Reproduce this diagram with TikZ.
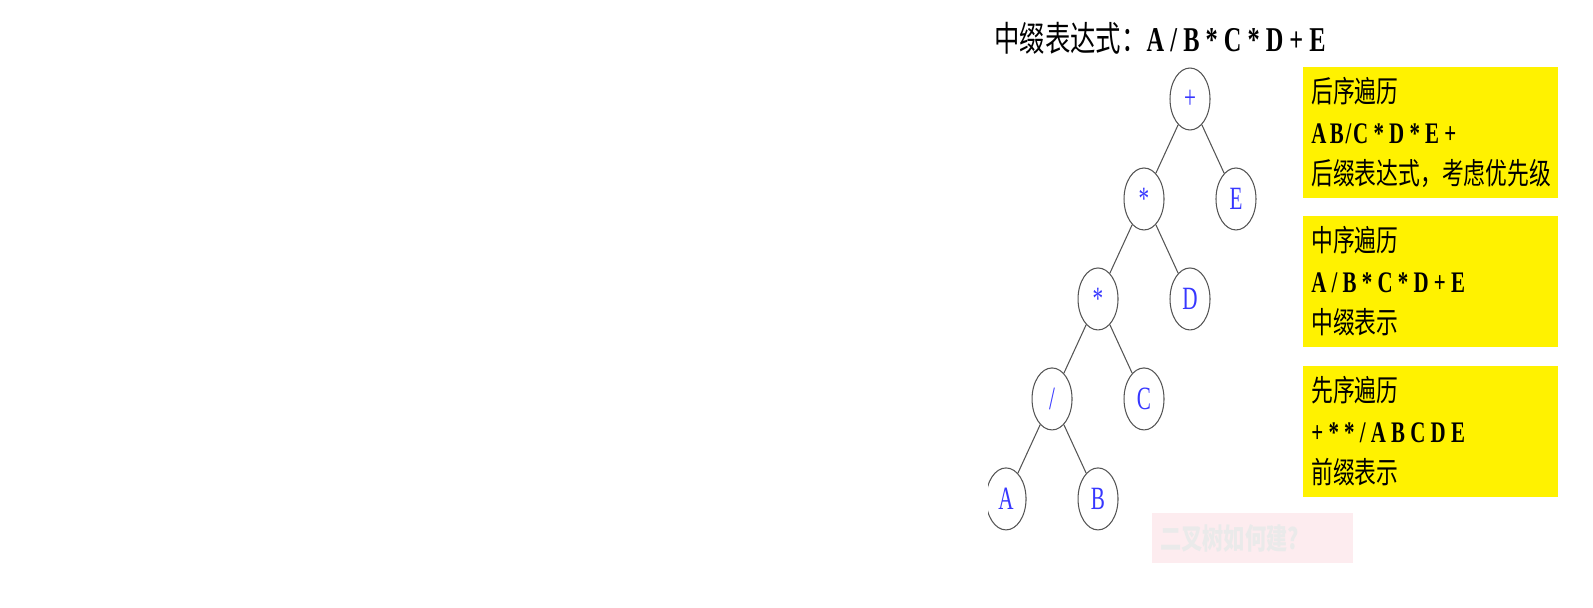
\documentclass[tikz,border=0pt]{standalone}
\usepackage{fontspec}
\usepackage{xcolor}
\usepackage{tikz}
\usetikzlibrary{positioning, shapes.geometric}

\newfontfamily\cjkfont[FakeStretch=0.73]{Noto Sans CJK SC}
\newfontfamily\latfont[FakeStretch=0.7]{Liberation Serif}
\newfontfamily\leaffont[FakeStretch=0.65]{Liberation Serif}
\newcommand{\latbf}[1]{{\latfont\bfseries\spaceskip=0pt\xspaceskip=0pt #1}}
\definecolor{leafblue}{RGB}{55,55,255}
\definecolor{edgegray}{RGB}{85,85,85}
\definecolor{notepink}{RGB}{253,236,239}
\definecolor{notegray}{RGB}{234,234,234}

\begin{document}
\begin{tikzpicture}[
  x=0.02cm, y=-0.02cm,
  on grid,
  node distance=2cm and 0.92cm,
  op/.style={draw=edgegray, line width=0.6pt, ellipse, inner sep=0pt, minimum width=0.8cm, minimum height=1.24cm,
    text=leafblue, font=\fontsize{18.5pt}{20pt}\selectfont\leaffont},
  orderbox/.style={fill=yellow, anchor=north west, align=left, text width=4.78cm, inner xsep=0.16cm,
    minimum height=2.62cm, font=\fontsize{17pt}{23.3pt}\selectfont\cjkfont},
  line/.style={draw=edgegray, line width=0.6pt}
]
\useasboundingbox (0,0) rectangle (1593,608);

% Title
\node (title) [anchor=west, inner sep=0pt] at (994,38)
  {\fontsize{19.8pt}{21pt}\selectfont\cjkfont 中缀表达式：\latbf{A / B * C * D + E}};

% Expression tree
\begin{scope}
\clip (988,0) rectangle (1593,608);
\node (plus) [op] at (1190,99) {+};
\node (mulA) [op, below left=of plus] {*};
\node (e)    [op, below right=of plus] {E};
\node (mulB) [op, below left=of mulA] {*};
\node (d)    [op, below right=of mulA] {D};
\node (div)  [op, below left=of mulB] {/};
\node (c)    [op, below right=of mulB] {C};
\node (a)    [op, below left=of div] {A};
\node (b)    [op, below right=of div] {B};

% Connections
\draw [line] (plus) -- (mulA);
\draw [line] (plus) -- (e);
\draw [line] (mulA) -- (mulB);
\draw [line] (mulA) -- (d);
\draw [line] (mulB) -- (div);
\draw [line] (mulB) -- (c);
\draw [line] (div) -- (a);
\draw [line] (div) -- (b);
\end{scope}

% Traversal boxes
\node (post) [orderbox] at (1303,67)
  {后序遍历\\\latbf{A\kern2pt B\kern1pt/\kern1pt C * D * E +}\\后缀表达式，考虑优先级};
\node (in)   [orderbox, on grid=false, below=0.34cm of post]
  {中序遍历\\\latbf{A / B * C * D + E}\\中缀表示};
\node (pre)  [orderbox, on grid=false, below=0.36cm of in]
  {先序遍历\\\latbf{+ * * / A B C D E}\\前缀表示};

% Faint question
\node (quiz) [fill=notepink, anchor=north west, align=left, text width=3.70cm, inner xsep=0.16cm,
  minimum height=1cm, text=notegray, font=\fontsize{16.5pt}{18pt}\selectfont\cjkfont\bfseries] at (1152,513)
  {二叉树如何建?};

\end{tikzpicture}
\end{document}
